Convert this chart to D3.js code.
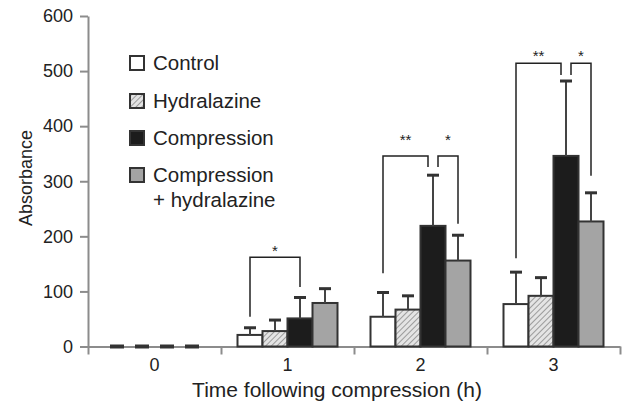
<!DOCTYPE html>
<html>
<head>
<meta charset="utf-8">
<script src="https://cdn.jsdelivr.net/npm/d3@7"></script>
<style>
  body { margin: 0; background: #fff; }
  svg { font-family: "Liberation Sans", Arial, sans-serif; }
</style>
</head>
<body>
<div id="chart-area"></div>
<script>

// Data
var categories = ["0", "1", "2", "3"];
var series = ["Control", "Hydralazine", "Compression", "Compression + hydralazine"];

var control      = [0, 21, 54, 77];
var hydralazine  = [0, 28, 67, 92];
var compression  = [0, 51, 219, 346];
var compHydral   = [0, 79, 156, 227];

var controlErr     = [0, 13, 44, 58];
var hydralazineErr = [0, 20, 25, 33];
var compressionErr = [0, 38, 92, 136];
var compHydralErr  = [0, 26, 46, 52];

var yTicks = [0, 100, 200, 300, 400, 500, 600];

// significance brackets: category, from series, to series, top, left leg end, right leg end, star height
var bracketCat   = ["1", "2", "2", "3", "3"];
var bracketFrom  = [0, 0, 2, 0, 2];
var bracketTo    = [2, 2, 3, 2, 3];
var bracketTop   = [162, 346, 346, 514, 514];
var bracketLeft  = [54, 133, 326, 160, 493];
var bracketRight = [108, 326, 223, 493, 310];
var bracketLabel = ["*", "**", "*", "**", "*"];
var bracketStarY = [179, 380, 380, 533, 533];

var means = [control, hydralazine, compression, compHydral];
var errs = [controlErr, hydralazineErr, compressionErr, compHydralErr];

var data = [];
categories.forEach(function(c, i) {
    series.forEach(function(s, j) {
        data.push({cat: c, series: j, value: means[j][i], err: errs[j][i]});
    });
});

// SVG drawing area
var svg = d3.select("#chart-area").append("svg")
    .attr("width", 623)
    .attr("height", 405);

var defs = svg.append("defs");
var pat = defs.append("pattern")
    .attr("id", "hatch")
    .attr("patternUnits", "userSpaceOnUse")
    .attr("width", 4)
    .attr("height", 4)
    .attr("patternTransform", "rotate(45)");
pat.append("rect").attr("width", 4).attr("height", 4).attr("fill", "#e4e4e4");
pat.append("line")
    .attr("x1", 0).attr("y1", 0).attr("x2", 0).attr("y2", 4)
    .attr("stroke", "#8a8a8a").attr("stroke-width", 1.6);

var fills = ["#ffffff", "url(#hatch)", "#1c1c1c", "#a4a4a4"];

// Scales
var x0 = d3.scaleBand()
    .domain(categories)
    .range([88, 620]);

var x1 = d3.scaleBand()
    .domain(d3.range(series.length))
    .range([0, 100]);

var y = d3.scaleLinear()
    .domain([0, 600])
    .range([346.5, 16]);

function barX(d) {
    return x0(d.cat) + (x0.bandwidth() - 100) / 2 + x1(d.series);
}
function barCenter(cat, s) {
    return x0(cat) + (x0.bandwidth() - 100) / 2 + x1(s) + x1.bandwidth() / 2;
}

var axisColor = "#8c8c8c";

// Y axis
var yAxis = d3.axisLeft(y)
    .tickValues(yTicks)
    .tickSize(8)
    .tickSizeOuter(0)
    .tickPadding(7);

var gy = svg.append("g")
    .attr("transform", "translate(88,0)")
    .call(yAxis);
gy.select(".domain").attr("stroke", axisColor).attr("stroke-width", 2);
gy.selectAll(".tick line").attr("stroke", axisColor).attr("stroke-width", 2);
gy.selectAll(".tick text")
    .attr("fill", "#222")
    .style("font-size", "18px");

// X axis (boundary ticks + category labels)
var xb = d3.scaleLinear().domain([0, 4]).range([88, 620]);
var gxb = svg.append("g")
    .attr("transform", "translate(0," + y(0) + ")")
    .call(d3.axisBottom(xb).ticks(4).tickSize(8).tickSizeOuter(0).tickFormat(""));
gxb.select(".domain").attr("stroke", axisColor).attr("stroke-width", 2);
gxb.selectAll(".tick line").attr("stroke", axisColor).attr("stroke-width", 2);

var gx = svg.append("g")
    .attr("transform", "translate(0," + y(0) + ")")
    .call(d3.axisBottom(x0).tickSize(0).tickPadding(12));
gx.select(".domain").remove();
gx.selectAll(".tick text")
    .attr("fill", "#222")
    .style("font-size", "18px");

// Axis titles
svg.append("text")
    .attr("transform", "translate(32,178) rotate(-90)")
    .attr("text-anchor", "middle")
    .attr("fill", "#222")
    .style("font-size", "18px")
    .text("Absorbance");

svg.append("text")
    .attr("x", 337)
    .attr("y", 397)
    .attr("text-anchor", "middle")
    .attr("fill", "#222")
    .style("font-size", "21px")
    .text("Time following compression (h)");

// Bars
svg.selectAll("rect.bar")
    .data(data)
    .enter().append("rect")
    .attr("class", "bar")
    .attr("x", barX)
    .attr("y", function(d) { return y(d.value); })
    .attr("width", x1.bandwidth())
    .attr("height", function(d) { return y(0) - y(d.value); })
    .attr("fill", function(d) { return fills[d.series]; })
    .attr("stroke", function(d) { return d.value > 0 ? "#333" : "none"; })
    .attr("stroke-width", 2);

// Error bars
var eb = svg.selectAll("g.err")
    .data(data)
    .enter().append("g")
    .attr("class", "err");

eb.append("line")
    .attr("x1", function(d) { return barCenter(d.cat, d.series); })
    .attr("x2", function(d) { return barCenter(d.cat, d.series); })
    .attr("y1", function(d) { return y(d.value); })
    .attr("y2", function(d) { return y(d.value + d.err); })
    .attr("stroke", "#444")
    .attr("stroke-width", 2);

eb.append("line")
    .attr("x1", function(d) { return barCenter(d.cat, d.series) - (d.value > 0 ? 6 : 7); })
    .attr("x2", function(d) { return barCenter(d.cat, d.series) + (d.value > 0 ? 6 : 7); })
    .attr("y1", function(d) { return y(d.value + d.err); })
    .attr("y2", function(d) { return y(d.value + d.err); })
    .attr("stroke", "#333")
    .attr("stroke-width", function(d) { return d.value > 0 ? 3 : 4; });

// Significance brackets
bracketCat.forEach(function(c, i) {
    var xl = barCenter(c, bracketFrom[i]);
    var xr = barCenter(c, bracketTo[i]);
    // leave a gap where two brackets meet on the same bar
    var shared = bracketCat.filter(function(k) { return k === c; }).length > 1;
    if (shared && bracketTo[i] === 2) xr -= 5;
    if (shared && bracketFrom[i] === 2) xl += 5;

    var path = d3.path();
    path.moveTo(xl, y(bracketLeft[i]));
    path.lineTo(xl, y(bracketTop[i]));
    path.lineTo(xr, y(bracketTop[i]));
    path.lineTo(xr, y(bracketRight[i]));

    svg.append("path")
        .attr("d", path.toString())
        .attr("fill", "none")
        .attr("stroke", "#222")
        .attr("stroke-width", 1.5);

    svg.append("text")
        .attr("x", (xl + xr) / 2)
        .attr("y", y(bracketStarY[i]) + 8)
        .attr("text-anchor", "middle")
        .attr("fill", "#222")
        .style("font-size", "15px")
        .text(bracketLabel[i]);
});

// Legend
var legendY = [63, 101, 138, 175];
var legend = svg.selectAll("g.legend")
    .data(series)
    .enter().append("g")
    .attr("class", "legend")
    .attr("transform", function(d, i) { return "translate(130," + legendY[i] + ")"; });

legend.append("rect")
    .attr("x", 0)
    .attr("y", -7)
    .attr("width", 14)
    .attr("height", 14)
    .attr("fill", function(d, i) { return fills[i]; })
    .attr("stroke", "#333")
    .attr("stroke-width", 2);

legend.append("text")
    .attr("x", 23)
    .attr("y", 7)
    .attr("fill", "#222")
    .style("font-size", "20.5px")
    .each(function(d) {
        var parts = d === "Compression + hydralazine" ? ["Compression", "+ hydralazine"] : [d];
        var t = d3.select(this);
        parts.forEach(function(p, k) {
            t.append("tspan")
                .attr("x", 23)
                .attr("dy", k === 0 ? 0 : 25)
                .text(p);
        });
    });

</script>
</body>
</html>
